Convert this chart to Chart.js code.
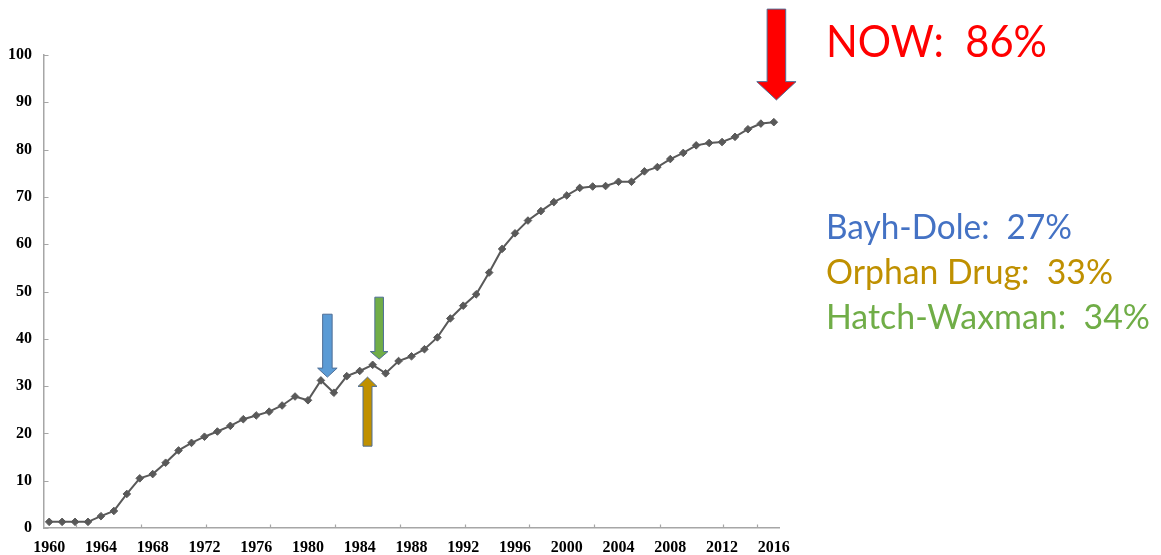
<!DOCTYPE html>
<html>
<head>
<meta charset="utf-8">
<script src="https://cdn.jsdelivr.net/npm/chart.js@4.4.1/dist/chart.umd.min.js"></script>
<style>
  html, body { margin: 0; padding: 0; background: #ffffff; }
  #wrap { position: relative; width: 1161px; height: 555px; overflow: hidden; }
  #chart { position: absolute; left: 0; top: 0; }
  #notes { position: absolute; left: 0; top: 0; pointer-events: none; }
  #notes text { font-family: Lato, "Open Sans", sans-serif; white-space: pre; }
</style>
</head>
<body>
<div id="wrap">
  <canvas id="chart" width="1161" height="555"></canvas>
  <svg id="notes" width="1161" height="555" xmlns="http://www.w3.org/2000/svg"></svg>
</div>
<script>
// Years on the horizontal axis
const years = [
  1960, 1961, 1962, 1963, 1964, 1965, 1966, 1967, 1968, 1969,
  1970, 1971, 1972, 1973, 1974, 1975, 1976, 1977, 1978, 1979,
  1980, 1981, 1982, 1983, 1984, 1985, 1986, 1987, 1988, 1989,
  1990, 1991, 1992, 1993, 1994, 1995, 1996, 1997, 1998, 1999,
  2000, 2001, 2002, 2003, 2004, 2005, 2006, 2007, 2008, 2009,
  2010, 2011, 2012, 2013, 2014, 2015, 2016
];

// Share (%) per year
const share = [
  1.3, 1.3, 1.3, 1.3, 2.5, 3.6, 7.2, 10.5, 11.4, 13.8,
  16.4, 18.0, 19.3, 20.4, 21.6, 23.0, 23.8, 24.6, 25.9, 27.8,
  27.0, 31.2, 28.6, 32.1, 33.2, 34.5, 32.7, 35.3, 36.3, 37.8,
  40.3, 44.3, 47.0, 49.4, 54.0, 59.0, 62.3, 65.0, 67.0, 68.9,
  70.3, 71.9, 72.2, 72.3, 73.2, 73.2, 75.4, 76.3, 78.0, 79.3,
  80.9, 81.4, 81.6, 82.7, 84.3, 85.5, 85.8
];

// Axis labels
const xTickLabels = [1960, 1964, 1968, 1972, 1976, 1980, 1984, 1988, 1992, 1996, 2000, 2004, 2008, 2012, 2016];
const yTickLabels = [0, 10, 20, 30, 40, 50, 60, 70, 80, 90, 100];
// Small tick marks along the year axis
const xTickMarks = [1962.1, 1967.1, 1972.1, 1977.1, 1982.1, 1987.1, 1992.1, 1997.1, 2002.1, 2007.2, 2012.1, 2014.7];

// Policy milestones
const milestones = ['Bayh-Dole:  27%', 'Orphan Drug:  33%', 'Hatch-Waxman:  34%'];
const milestoneColors = ['#4472C4', '#BF9000', '#70AD47'];
const milestoneWidths = [246, 287, 324];
const headline = 'NOW:  86%';

// Block arrows, placed in data units (year, value)
const arrows = [
  { year: 1981.5, tip: 31.9, tail: 45.2, shaft: 9.5, head: 19.5, headLen: 9,   fill: '#5B9BD5' },
  { year: 1985.5, tip: 35.7, tail: 48.8, shaft: 8.6, head: 17.7, headLen: 7.6, fill: '#70AD47' },
  { year: 1984.6, tip: 31.9, tail: 17.3, shaft: 9,   head: 19,   headLen: 9.3, fill: '#BF9000' },
  { year: 2016.2, tip: 90.5, tail: 109.7, shaft: 18.6, head: 39.3, headLen: 18.3, fill: '#FF0000' }
];

const axisGrey = '#A6A6A6';
const tickFont = { family: '"Liberation Serif", "Times New Roman", serif', size: 16, weight: 'bold' };

// Short tick marks pointing into the plot area
const inwardTicks = {
  id: 'inwardTicks',
  afterDraw(chart) {
    const { ctx, scales: { x, y } } = chart;
    ctx.save();
    ctx.strokeStyle = axisGrey;
    ctx.lineWidth = 1.2;
    ctx.beginPath();
    yTickLabels.forEach(v => {
      const py = Math.round(y.getPixelForValue(v)) + 0.5;
      ctx.moveTo(x.left, py);
      ctx.lineTo(x.left + 4.5, py);
    });
    xTickMarks.forEach(v => {
      const px = Math.round(x.getPixelForValue(v)) + 0.5;
      ctx.moveTo(px, y.bottom);
      ctx.lineTo(px, y.bottom - 3.5);
    });
    ctx.stroke();
    ctx.restore();
  }
};

// Block arrows
const blockArrows = {
  id: 'blockArrows',
  afterDraw(chart) {
    const { ctx, scales: { x, y } } = chart;
    ctx.save();
    arrows.forEach(a => {
      const cx = x.getPixelForValue(a.year);
      const tipY = y.getPixelForValue(a.tip);
      const tailY = y.getPixelForValue(a.tail);
      const dir = tailY < tipY ? 1 : -1; // 1 = pointing down
      const baseY = tipY - dir * a.headLen;
      const hs = a.shaft / 2, hh = a.head / 2;
      ctx.beginPath();
      ctx.moveTo(cx - hs, tailY);
      ctx.lineTo(cx + hs, tailY);
      ctx.lineTo(cx + hs, baseY);
      ctx.lineTo(cx + hh, baseY);
      ctx.lineTo(cx, tipY);
      ctx.lineTo(cx - hh, baseY);
      ctx.lineTo(cx - hs, baseY);
      ctx.closePath();
      ctx.fillStyle = a.fill;
      ctx.fill();
      ctx.strokeStyle = '#4E6E96';
      ctx.lineWidth = 1;
      ctx.stroke();
    });
    ctx.restore();
  }
};

new Chart(document.getElementById('chart'), {
  type: 'line',
  data: {
    datasets: [{
      data: years.map((yr, i) => ({ x: yr, y: share[i] })),
      borderColor: '#595959',
      borderWidth: 2,
      pointStyle: 'rectRot',
      pointRadius: 3.8,
      pointBackgroundColor: '#595959',
      pointBorderColor: '#595959',
      pointBorderWidth: 1,
      tension: 0
    }]
  },
  options: {
    responsive: false,
    animation: false,
    layout: { padding: { left: 0, right: 382, top: 55, bottom: 0 } },
    plugins: { legend: { display: false }, tooltip: { enabled: false } },
    scales: {
      x: {
        type: 'linear',
        min: 1959.6,
        max: 2016.4,
        afterBuildTicks: s => { s.ticks = xTickLabels.map(v => ({ value: v })); },
        afterFit: s => { s.height = 27; },
        grid: { display: false, drawTicks: false },
        border: { color: axisGrey, width: 1.5 },
        ticks: {
          autoSkip: false, maxRotation: 0, minRotation: 0, padding: 10,
          font: tickFont, color: '#000000',
          callback: v => String(v)
        }
      },
      y: {
        min: 0,
        max: 100,
        afterBuildTicks: s => { s.ticks = yTickLabels.map(v => ({ value: v })); },
        afterFit: s => { s.width = 44; },
        grid: { display: false, drawTicks: false },
        border: { color: axisGrey, width: 1.5 },
        ticks: {
          padding: 12, font: tickFont, color: '#000000',
          callback: v => String(v)
        }
      }
    }
  },
  plugins: [inwardTicks, blockArrows]
});

// Text notes on the right
const svg = document.getElementById('notes');
function addText(str, xPos, baseline, size, color, width) {
  const t = document.createElementNS('http://www.w3.org/2000/svg', 'text');
  t.setAttribute('x', xPos);
  t.setAttribute('y', baseline);
  t.setAttribute('fill', color);
  t.setAttribute('font-size', size);
  t.setAttribute('xml:space', 'preserve');
  t.setAttribute('textLength', width);
  t.setAttribute('lengthAdjust', 'spacingAndGlyphs');
  t.textContent = str;
  svg.appendChild(t);
}
addText(headline, 826, 57, 45, '#FF0000', 221);
milestones.forEach((m, i) => addText(m, 826, 239 + i * 45, 34.5, milestoneColors[i], milestoneWidths[i]));
</script>
</body>
</html>
